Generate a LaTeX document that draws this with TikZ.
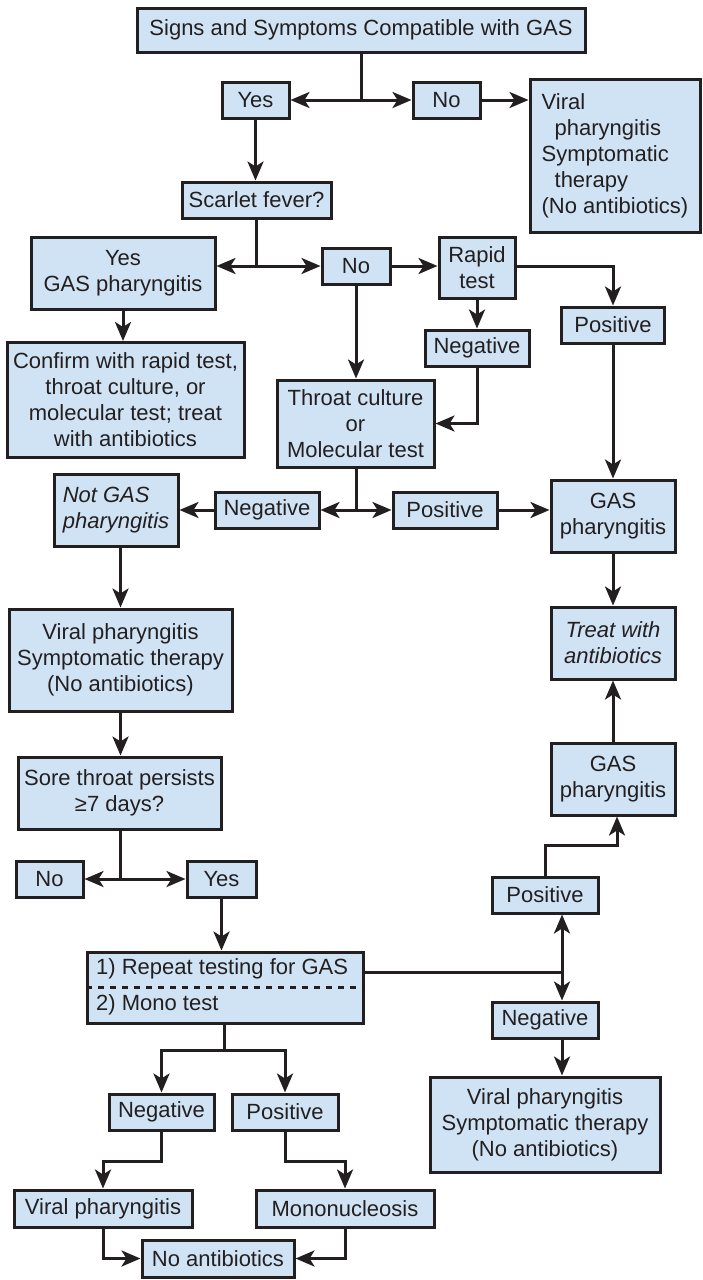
\documentclass[tikz,border=0pt]{standalone}
\usepackage{fontspec}
\setmainfont{Liberation Sans}
\usetikzlibrary{arrows.meta}
\definecolor{boxfill}{RGB}{208,227,244}
\definecolor{ink}{RGB}{35,31,32}
\begin{document}
\begin{tikzpicture}[x=1pt,y=-1pt,
  box/.style={draw=ink, fill=boxfill, line width=3pt, inner sep=0pt, align=center, text=ink, font=\fontsize{22pt}{26pt}\selectfont},
  itbox/.style={box, font=\fontsize{22pt}{26pt}\selectfont\itshape},
  plain/.style={inner sep=0pt, text=ink, font=\fontsize{22pt}{26pt}\selectfont},
  conn/.style={draw=ink, line width=3pt},
  arr/.style={conn, -{Stealth[length=19pt,width=16pt,inset=5pt]}}
]
\path[use as bounding box] (0,0) rectangle (703,1280);

% nodes
\node[box, minimum width=448pt, minimum height=44pt] (top) at (361,30) {Signs and Symptoms Compatible with GAS};
\node[box, minimum width=67pt, minimum height=36pt] (yes1) at (255.5,100) {Yes};
\node[box, minimum width=67pt, minimum height=36pt] (no1) at (446.5,100) {No};
\node[box, minimum width=170pt, minimum height=153pt, align=left] (viral1) at (615,155.5) {Viral\\\hspace*{13pt}pharyngitis\\Symptomatic\\\hspace*{13pt}therapy\\(No antibiotics)};
\node[box, minimum width=149pt, minimum height=36pt] (scarlet) at (256.5,200) {Scarlet fever?};
\node[box, minimum width=184pt, minimum height=72pt] (yesgas) at (123,273) {Yes\\GAS pharyngitis};
\node[box, minimum width=68pt, minimum height=36pt] (no2) at (356,266) {No};
\node[box, minimum width=76pt, minimum height=61pt] (rapid) at (477,267.5) {Rapid\\test};
\node[box, minimum width=103pt, minimum height=36pt] (pos1) at (613,325) {Positive};
\node[box, minimum width=104pt, minimum height=36pt] (neg1) at (477,348) {Negative};
\node[box, minimum width=157pt, minimum height=87pt] (throat) at (355.5,423.5) {Throat culture\\or\\Molecular test};
\node[box, minimum width=237pt, minimum height=115pt] (confirm) at (125.5,400) {Confirm with rapid test,\\throat culture, or\\molecular test; treat\\with antibiotics};
\node[itbox, minimum width=124pt, minimum height=72pt, align=left] (notgas) at (116,510) {Not GAS\\pharyngitis};
\node[box, minimum width=104pt, minimum height=36pt] (neg2) at (267,510) {Negative};
\node[box, minimum width=104pt, minimum height=36pt] (pos2) at (445,510) {Positive};
\node[box, minimum width=124pt, minimum height=72pt] (gas1) at (613,516) {GAS\\pharyngitis};
\node[itbox, minimum width=124pt, minimum height=72pt] (treat) at (613,643) {Treat with\\antibiotics};
\node[box, minimum width=223pt, minimum height=102pt] (viral2) at (120.5,660) {Viral pharyngitis\\Symptomatic therapy\\(No antibiotics)};
\node[box, minimum width=203pt, minimum height=72pt] (sore) at (119.5,793) {Sore throat persists\\≥7 days?};
\node[box, minimum width=67pt, minimum height=36pt] (no3) at (49.5,879) {No};
\node[box, minimum width=69pt, minimum height=36pt] (yes3) at (221.5,879) {Yes};
\node[box, minimum width=124pt, minimum height=72pt] (gas2) at (613,779) {GAS\\pharyngitis};
\node[box, minimum width=106pt, minimum height=36pt] (pos3) at (545,895) {Positive};
\node[box, minimum width=276pt, minimum height=71pt] (repeat) at (225,987.5) {};
\draw[ink, line width=3pt, dash pattern=on 6pt off 6pt] (repeat.west) -- (repeat.east);
\node[plain, anchor=west] (r1) at (96,969) {1) Repeat testing for GAS};
\node[plain, anchor=west] (r2) at (96,1005) {2) Mono test};
\node[box, minimum width=106pt, minimum height=36pt] (neg3) at (545,1020) {Negative};
\node[box, minimum width=230pt, minimum height=95pt] (viral3) at (545,1124.5) {Viral pharyngitis\\Symptomatic therapy\\(No antibiotics)};
\node[box, minimum width=105pt, minimum height=36pt] (neg4) at (161.5,1112) {Negative};
\node[box, minimum width=106pt, minimum height=36pt] (pos4) at (285,1112) {Positive};
\node[box, minimum width=178pt, minimum height=37pt] (viralph) at (103,1208.5) {Viral pharyngitis};
\node[box, minimum width=178pt, minimum height=37pt] (mono) at (345,1208.5) {Mononucleosis};
\node[box, minimum width=152pt, minimum height=37pt] (noanti) at (218,1258.5) {No antibiotics};

% connectors
\coordinate (j1) at (361,100);
\draw[conn] (top.south) -- (j1);
\draw[arr] (j1) -- (yes1.east);
\draw[arr] (j1) -- (no1.west);
\draw[arr] (no1.east) -- (viral1.west |- no1.east);
\draw[arr] (yes1.south) -- (yes1.south |- scarlet.north);
\coordinate (j2) at (256,266);
\draw[conn] (j2 |- scarlet.south) -- (j2);
\draw[arr] (j2) -- (yesgas.east |- j2);
\draw[arr] (j2) -- (no2.west);
\draw[arr] (no2.east) -- (rapid.west |- no2.east);
\draw[arr] (rapid.east |- no2.east) -- (pos1.north |- no2.east) -- (pos1.north);
\draw[arr] (rapid.south) -- (neg1.north);
\draw[arr] (neg1.south) -- (neg1.south |- throat.east) -- (throat.east);
\draw[arr] (no2.south) -- (no2.south |- throat.north);
\draw[arr] (yesgas.south) -- (yesgas.south |- confirm.north);
\draw[arr] (pos1.south) -- (gas1.north);
\coordinate (j3) at (356,510);
\draw[conn] (j3 |- throat.south) -- (j3);
\draw[arr] (j3) -- (neg2.east);
\draw[arr] (j3) -- (pos2.west);
\draw[arr] (neg2.west) -- (notgas.east |- neg2.west);
\draw[arr] (pos2.east) -- (gas1.west |- pos2.east);
\draw[arr] (gas1.south) -- (treat.north);
\draw[arr] (notgas.south -| viral2.north) -- (viral2.north);
\draw[arr] (viral2.south) -- (viral2.south |- sore.north);
\coordinate (j4) at (120,879);
\draw[conn] (j4 |- sore.south) -- (j4);
\draw[arr] (j4) -- (no3.east);
\draw[arr] (j4) -- (yes3.west);
\draw[arr] (yes3.south) -- (yes3.south |- repeat.north);
\coordinate (j5) at (562,972);
\draw[conn] (repeat.east |- j5) -- (j5);
\draw[arr] (j5) -- (j5 |- pos3.south);
\draw[arr] (j5) -- (j5 |- neg3.north);
\coordinate (b1) at (617,845);
\draw[arr] (pos3.north) -- (pos3.north |- b1) -- (b1) -- (b1 |- gas2.south);
\draw[arr] (gas2.north) -- (treat.south);
\draw[arr] (neg3.south -| j5) -- (j5 |- viral3.north);
\coordinate (j6) at (224,1050);
\draw[conn] (repeat.south -| j6) -- (j6);
\draw[arr] (j6) -- (j6 -| neg4.north) -- (neg4.north);
\draw[arr] (j6) -- (j6 -| pos4.north) -- (pos4.north);
\coordinate (k1) at (0,1161);
\draw[arr] (neg4.south) -- (neg4.south |- k1) -- (viralph.north |- k1) -- (viralph.north);
\draw[arr] (pos4.south) -- (pos4.south |- k1) -- (mono.north |- k1) -- (mono.north);
\draw[arr] (viralph.south) -- (viralph.south |- noanti.west) -- (noanti.west);
\draw[arr] (mono.south) -- (mono.south |- noanti.east) -- (noanti.east);
\end{tikzpicture}
\end{document}
